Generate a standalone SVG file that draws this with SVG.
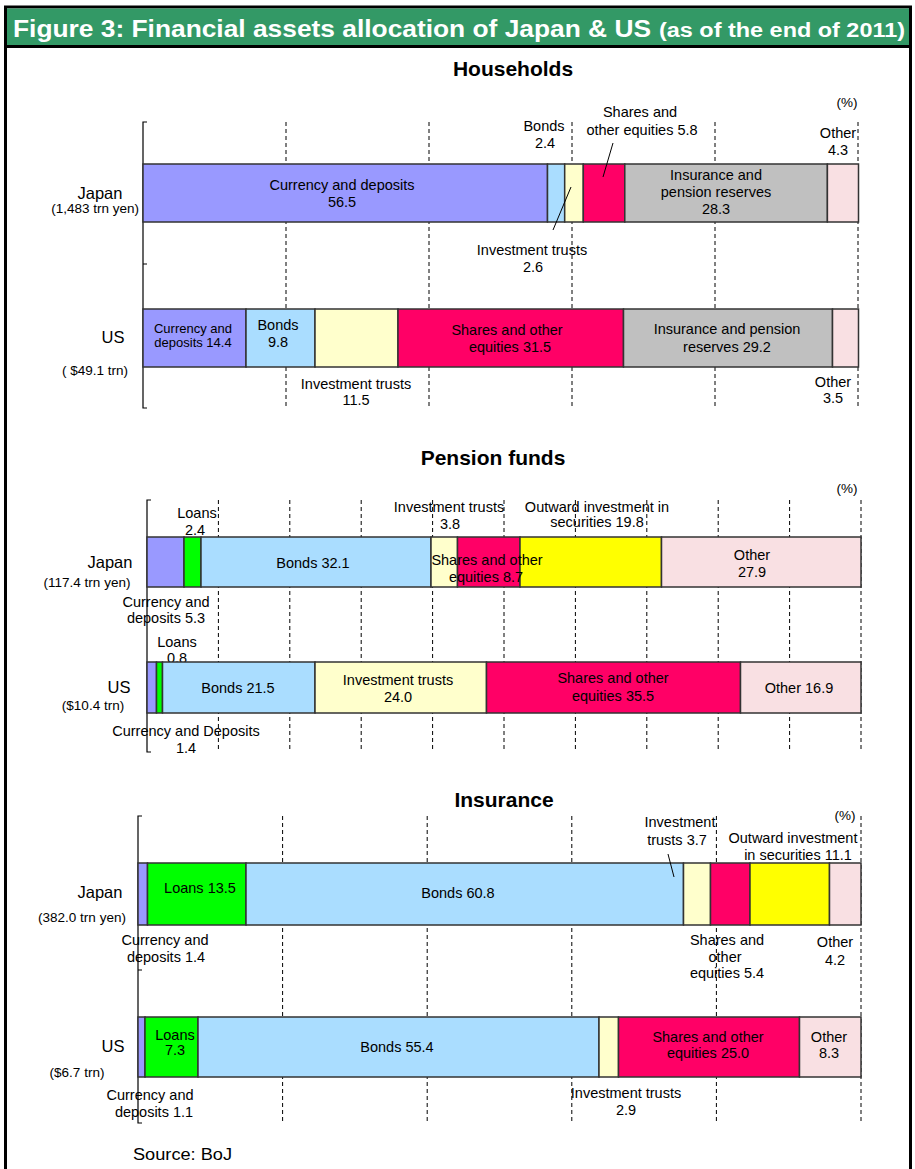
<svg xmlns="http://www.w3.org/2000/svg" width="915" height="1169" viewBox="0 0 915 1169">
<style>
text{font-family:"Liberation Sans",Arial,sans-serif;fill:#000;}
.t{font-size:14.5px;text-anchor:middle;}
.s{font-size:13.5px;text-anchor:middle;}
.r{font-size:13.5px;text-anchor:end;}
.cty{font-size:16.5px;text-anchor:middle;}
.hd{font-size:21px;font-weight:bold;text-anchor:middle;}
.grid{stroke:#000;stroke-width:1;stroke-dasharray:4,3;fill:none;}
.axis{stroke:#000;stroke-width:1.2;fill:none;}
.seg{stroke:#333;stroke-width:1.5;}
.cd{fill:#9999FF;}
.bd{fill:#AADDFF;}
.it{fill:#FFFFCC;}
.sh{fill:#FF0066;}
.ins{fill:#C0C0C0;}
.ot{fill:#F9E0E3;}
.ln{fill:#00FF00;}
.ow{fill:#FFFF00;}
.lead{stroke:#000;stroke-width:1;fill:none;}
</style>
<rect x="0" y="0" width="915" height="1169" fill="#fff"/>
<g id="frame">
<rect x="5.5" y="7" width="905" height="1170" fill="none" stroke="#000" stroke-width="3"/>
<rect x="7" y="8.5" width="902" height="37" fill="#339966"/>
<line x1="5.5" y1="46.5" x2="910.5" y2="46.5" stroke="#000" stroke-width="3"/>
<text x="13" y="37" style="font-size:24px;font-weight:bold;fill:#fff" textLength="638" lengthAdjust="spacingAndGlyphs">Figure 3: Financial assets allocation of Japan &amp; US</text>
<text x="659" y="37" style="font-size:20px;font-weight:bold;fill:#fff" textLength="246" lengthAdjust="spacingAndGlyphs">(as of the end of 2011)</text>
</g>

<!-- ===== Households ===== -->
<g id="households-axes">
<text class="hd" x="513" y="76">Households</text>
<path class="axis" d="M147 122H143V408H147M143 264H147"/>
<path class="grid" d="M286 122V408M429 122V408M572 122V408M715 122V408M858 122V408"/>
<text class="s" x="847" y="107">(%)</text>
</g>
<g id="hh-japan">
<rect class="seg cd" x="143" y="164" width="404.5" height="58"/>
<rect class="seg bd" x="547.5" y="164" width="17.2" height="58"/>
<rect class="seg it" x="564.7" y="164" width="18.6" height="58"/>
<rect class="seg sh" x="583.3" y="164" width="41.5" height="58"/>
<rect class="seg ins" x="624.8" y="164" width="202.6" height="58"/>
<rect class="seg ot" x="827.4" y="164" width="31.1" height="58"/>
<text class="cty" x="100" y="199">Japan</text>
<text class="r" x="139" y="213">(1,483 trn yen)</text>
<text class="t" x="342" y="190">Currency and deposits</text>
<text class="t" x="342" y="207">56.5</text>
<text class="t" x="544" y="131">Bonds</text>
<text class="t" x="545" y="148">2.4</text>
<text class="t" x="640" y="117">Shares and</text>
<text class="t" x="642" y="135">other equities  5.8</text>
<text class="t" x="716" y="180">Insurance and</text>
<text class="t" x="716" y="197">pension reserves</text>
<text class="t" x="716" y="214">28.3</text>
<text class="t" x="838" y="138">Other</text>
<text class="t" x="838" y="155">4.3</text>
<text class="t" x="532" y="255">Investment trusts</text>
<text class="t" x="533" y="272">2.6</text>
</g>
<g id="hh-us">
<rect class="seg cd" x="143" y="309" width="103" height="58"/>
<rect class="seg bd" x="246" y="309" width="69" height="58"/>
<rect class="seg it" x="315" y="309" width="83" height="58"/>
<rect class="seg sh" x="398" y="309" width="225.5" height="58"/>
<rect class="seg ins" x="623.5" y="309" width="209" height="58"/>
<rect class="seg ot" x="832.5" y="309" width="26" height="58"/>
<text class="cty" x="113" y="343">US</text>
<text class="r" x="128" y="375">( $49.1 trn)</text>
<text x="193" y="333" style="font-size:13px;text-anchor:middle">Currency and</text>
<text x="193" y="347" style="font-size:13px;text-anchor:middle">deposits 14.4</text>
<text class="t" x="278" y="330">Bonds</text>
<text class="t" x="278" y="347">9.8</text>
<text class="t" x="356" y="389">Investment trusts</text>
<text class="t" x="356" y="405">11.5</text>
<text class="t" x="507" y="335">Shares and other</text>
<text class="t" x="510" y="352">equities 31.5</text>
<text class="t" x="727" y="334">Insurance and pension</text>
<text class="t" x="727" y="352">reserves  29.2</text>
<text class="t" x="833" y="387">Other</text>
<text class="t" x="833" y="403">3.5</text>
</g>

<!-- ===== Pension funds ===== -->
<g id="pension-axes">
<text class="hd" x="493" y="465">Pension funds</text>
<path class="axis" d="M151 500H147V752H151"/>
<path class="grid" d="M218.4 500V752M289.8 500V752M361.2 500V752M432.6 500V752M504 500V752M575.4 500V752M646.8 500V752M718.2 500V752M789.6 500V752M861 500V752"/>
<text class="s" x="847" y="493">(%)</text>
</g>
<g id="pf-japan">
<text class="t" x="197" y="518">Loans</text>
<text class="t" x="195" y="535">2.4</text>
<rect class="seg cd" x="147" y="537" width="37" height="50"/>
<rect class="seg ln" x="184" y="537" width="17" height="50"/>
<rect class="seg bd" x="201" y="537" width="230" height="50"/>
<rect class="seg it" x="431" y="537" width="26.5" height="50"/>
<rect class="seg sh" x="457.5" y="537" width="62.5" height="50"/>
<rect class="seg ow" x="520" y="537" width="141.5" height="50"/>
<rect class="seg ot" x="661.5" y="537" width="199.5" height="50"/>
<text class="cty" x="110" y="568">Japan</text>
<text class="s" x="87" y="587">(117.4 trn yen)</text>
<text class="t" x="313" y="568">Bonds 32.1</text>
<text class="t" x="166" y="607">Currency and</text>
<text class="t" x="166" y="623">deposits 5.3</text>
<text class="t" x="449" y="512">Investment trusts</text>
<text class="t" x="450" y="529">3.8</text>
<text class="t" x="487" y="565">Shares and other</text>
<text class="t" x="486" y="582">equities 8.7</text>
<text class="t" x="597" y="512">Outward investment in</text>
<text class="t" x="597" y="527">securities 19.8</text>
<text class="t" x="752" y="560">Other</text>
<text class="t" x="752" y="577">27.9</text>
</g>
<g id="pf-us">
<text class="t" x="177" y="647">Loans</text>
<text class="t" x="177" y="663">0.8</text>
<rect class="seg cd" x="147" y="662" width="9.5" height="51"/>
<rect class="seg ln" x="156.5" y="662" width="6" height="51"/>
<rect class="seg bd" x="162.5" y="662" width="152.5" height="51"/>
<rect class="seg it" x="315" y="662" width="171.5" height="51"/>
<rect class="seg sh" x="486.5" y="662" width="254" height="51"/>
<rect class="seg ot" x="740.5" y="662" width="120.5" height="51"/>
<text class="cty" x="119" y="693">US</text>
<text class="s" x="93" y="710">($10.4 trn)</text>
<text class="t" x="238" y="693">Bonds 21.5</text>
<text class="t" x="398" y="685">Investment trusts</text>
<text class="t" x="398" y="702">24.0</text>
<text class="t" x="613" y="683">Shares and other</text>
<text class="t" x="613" y="701">equities 35.5</text>
<text class="t" x="799" y="693">Other 16.9</text>
<text class="t" x="186" y="736">Currency and Deposits</text>
<text class="t" x="186" y="753">1.4</text>
</g>

<!-- ===== Insurance ===== -->
<g id="insurance-axes">
<text class="hd" x="504" y="807">Insurance</text>
<path class="axis" d="M142 816H138V1123H142M138 970H142"/>
<path class="grid" d="M282.6 816V1123M427.2 816V1123M571.8 816V1123M716.4 816V1123M861 816V1123"/>
<text class="s" x="845" y="820">(%)</text>
</g>
<g id="ins-japan">
<rect class="seg cd" x="138" y="863" width="9.5" height="62"/>
<rect class="seg ln" x="147.5" y="863" width="98.5" height="62"/>
<rect class="seg bd" x="246" y="863" width="437.5" height="62"/>
<rect class="seg it" x="683.5" y="863" width="27" height="62"/>
<rect class="seg sh" x="710.5" y="863" width="39.5" height="62"/>
<rect class="seg ow" x="750" y="863" width="79.5" height="62"/>
<rect class="seg ot" x="829.5" y="863" width="31.5" height="62"/>
<text class="cty" x="100" y="898">Japan</text>
<text class="s" x="82" y="922">(382.0 trn yen)</text>
<text class="t" x="200" y="893">Loans 13.5</text>
<text class="t" x="458" y="898">Bonds  60.8</text>
<text class="t" x="680" y="827">Investment</text>
<text class="t" x="677" y="845">trusts 3.7</text>
<text class="t" x="793" y="843">Outward investment</text>
<text class="t" x="798" y="860">in securities 11.1</text>
<text class="t" x="165" y="945">Currency and</text>
<text class="t" x="166" y="962">deposits 1.4</text>
<text class="t" x="727" y="945">Shares and</text>
<text class="t" x="725" y="962">other</text>
<text class="t" x="727" y="978">equities 5.4</text>
<text class="t" x="835" y="947">Other</text>
<text class="t" x="835" y="965">4.2</text>
</g>
<g id="ins-us">
<rect class="seg cd" x="138" y="1017" width="7" height="60"/>
<rect class="seg ln" x="145" y="1017" width="53" height="60"/>
<rect class="seg bd" x="198" y="1017" width="401" height="60"/>
<rect class="seg it" x="599" y="1017" width="19.5" height="60"/>
<rect class="seg sh" x="618.5" y="1017" width="181" height="60"/>
<rect class="seg ot" x="799.5" y="1017" width="61.5" height="60"/>
<text class="cty" x="113" y="1052">US</text>
<text class="s" x="77" y="1077">($6.7 trn)</text>
<text class="t" x="175" y="1040">Loans</text>
<text class="t" x="175" y="1055">7.3</text>
<text class="t" x="397" y="1052">Bonds  55.4</text>
<text class="t" x="708" y="1042">Shares and other</text>
<text class="t" x="708" y="1058">equities 25.0</text>
<text class="t" x="829" y="1042">Other</text>
<text class="t" x="829" y="1058">8.3</text>
<text class="t" x="150" y="1100">Currency and</text>
<text class="t" x="154" y="1117">deposits 1.1</text>
<text class="t" x="626" y="1098">Investment trusts</text>
<text class="t" x="626" y="1115">2.9</text>
</g>

<g id="connectors">
<line class="lead" x1="613" y1="143" x2="603" y2="177"/>
<line class="lead" x1="571" y1="187" x2="553" y2="230"/>
<line class="lead" x1="668" y1="854" x2="674" y2="877"/>
</g>

<text x="133" y="1160" style="font-size:16px" textLength="99" lengthAdjust="spacingAndGlyphs">Source: BoJ</text>
</svg>
